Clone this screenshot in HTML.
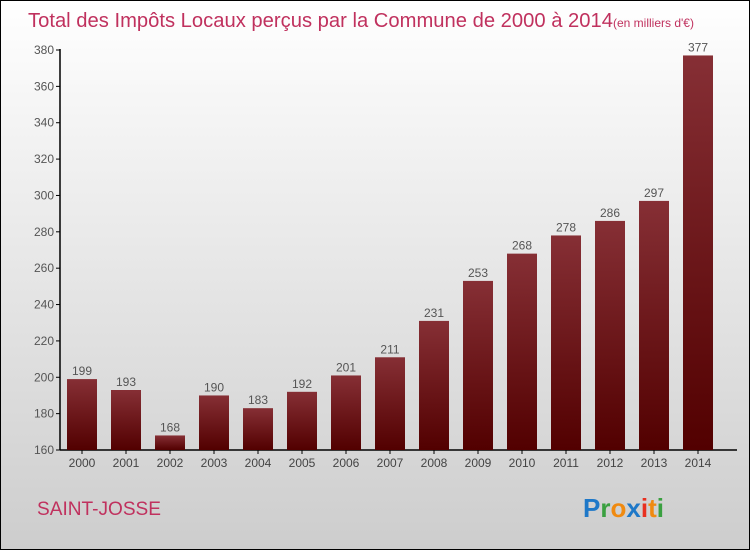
<!DOCTYPE html>
<html><head><meta charset="utf-8"><style>
body{margin:0;}
#wrap{position:relative;width:748px;height:548px;border:1px solid #000;background:linear-gradient(#ffffff,#cdcdcd);overflow:hidden;font-family:"Liberation Sans",sans-serif;}
svg{position:absolute;left:0;top:0;}
</style></head><body>
<div id="wrap">
<svg id="c" width="748" height="548">
<defs><linearGradient id="bg" x1="0" y1="0" x2="0" y2="1"><stop offset="0" stop-color="#862f35"/><stop offset="1" stop-color="#520000"/></linearGradient></defs>
<text x="27" y="26" font-size="20" fill="#c0315e"><tspan textLength="585" lengthAdjust="spacingAndGlyphs">Total des Impôts Locaux perçus par la Commune de 2000 à 2014</tspan><tspan font-size="12">(en milliers d'€)</tspan></text>
<text x="36" y="514" font-size="19" fill="#c0315e" textLength="124" lengthAdjust="spacingAndGlyphs">SAINT-JOSSE</text>
<text x="582" y="516" font-size="26" font-weight="bold"><tspan fill="#1e78c8">P</tspan><tspan fill="#3aa040">r</tspan><tspan fill="#f08a10">o</tspan><tspan fill="#1e78c8">x</tspan><tspan fill="#e83020">i</tspan><tspan fill="#f08a10">t</tspan><tspan fill="#3aa040">i</tspan></text>
<g id="plot"></g>
</svg>
</div>
<script>
const categories=["2000","2001","2002","2003","2004","2005","2006","2007","2008","2009","2010","2011","2012","2013","2014"];
const values=[199,193,168,190,183,192,201,211,231,253,268,278,286,297,377];
const ticks=[160,180,200,220,240,260,280,300,320,340,360,380];
const ns="http://www.w3.org/2000/svg";
const g=document.getElementById('plot');
const y=v=>449-(v-160)*(400/220);
const x=i=>81+i*44;
function mk(t,a){const e=document.createElementNS(ns,t);for(const k in a)e.setAttribute(k,a[k]);g.appendChild(e);return e;}
let ax=mk('line',{x1:59,y1:48,x2:59,y2:449,stroke:'#000','stroke-width':1.5});


let bx=mk('line',{x1:59,y1:449,x2:736,y2:449,stroke:'#000','stroke-width':1.5});


ticks.forEach(t=>{
 let l=mk('line',{x1:55,y1:y(t),x2:59,y2:y(t),stroke:'#000'});
 
 
 let tx=mk('text',{x:53,y:y(t)+4,'text-anchor':'end','font-size':12,fill:'#555'});
 tx.textContent=t;
 
 
});
categories.forEach((c,i)=>{
 const v=values[i];
 let r=mk('rect',{x:x(i)-15,y:y(v),width:30,height:449-y(v),fill:'url(#bg)'});
 
 
 let tk=mk('line',{x1:x(i),y1:449,x2:x(i),y2:453,stroke:'#000'});
 
 
 let lb=mk('text',{x:x(i),y:466,'text-anchor':'middle','font-size':12,fill:'#444'});
 lb.textContent=c;
 
 
 let vl=mk('text',{x:x(i),y:y(v)-4,'text-anchor':'middle','font-size':12,fill:'#555'});
 vl.textContent=v;
 
 
});
</script>
</body></html>
